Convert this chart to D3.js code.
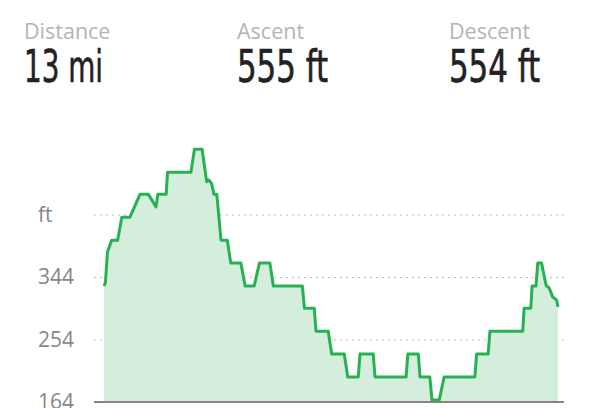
<!DOCTYPE html>
<html>
<head>
<meta charset="utf-8">
<script src="https://cdn.jsdelivr.net/npm/d3@7"></script>
<style>
  html, body { margin: 0; padding: 0; background: #fff; overflow: hidden; }
  svg { display: block; }
</style>
</head>
<body>
<svg id="chart" width="600" height="408"></svg>
<script>
// Summary stats
const statLabels = ["Distance", "Ascent", "Descent"];
const statValues = ["13 mi", "555 ft", "554 ft"];

// Elevation profile: distance (mi) and elevation (ft)
const distance = [0, 0.04, 0.10, 0.22, 0.39, 0.51, 0.74, 1.03, 1.27, 1.49, 1.54, 1.78, 1.82, 2.49, 2.59, 2.81,
  2.94, 2.99, 3.08, 3.15, 3.23, 3.35, 3.53, 3.63, 3.92, 4.04, 4.30, 4.45, 4.75, 4.85, 5.68, 5.74, 6.02, 6.07,
  6.42, 6.52, 6.88, 6.98, 7.28, 7.33, 7.71, 7.76, 8.65, 8.70, 9.00, 9.05, 9.33, 9.39, 9.60, 9.74, 10.62, 10.67,
  11.00, 11.05, 11.99, 12.03, 12.22, 12.26, 12.37, 12.42, 12.53, 12.66, 12.75, 12.85, 12.96, 13.00];
const elevation = [331, 336, 380, 397, 397, 430, 430, 463, 463, 445, 463, 463, 495, 495, 528, 528,
  481, 484, 479, 463, 463, 397, 397, 364, 364, 331, 331, 364, 364, 331, 331, 299, 299, 266,
  266, 233, 233, 200, 200, 233, 233, 200, 200, 233, 233, 200, 200, 167, 167, 200, 200, 233,
  233, 266, 266, 299, 299, 331, 331, 364, 364, 332, 328, 315, 311, 301];

// Y axis ticks
const yTickValues = [164, 254, 344, 434];
const yTickLabels = ["164", "254", "344", "ft"];

const svg = d3.select("#chart");

// Header
const statX = [24, 237, 449];
const statW = [79, 91, 91];
statLabels.forEach((lab, i) => {
  svg.append("text")
    .attr("x", statX[i]).attr("y", 39)
    .attr("font-family", "'Open Sans', 'Noto Sans', sans-serif")
    .attr("font-size", 21.5)
    .attr("fill", "#b4b4b4")
    .text(lab);
  svg.append("text")
    .attr("x", statX[i]).attr("y", 82)
    .attr("font-family", "'Liberation Sans Narrow', 'DejaVu Sans Condensed', 'Roboto', sans-serif")
    .attr("font-size", 44)
    .attr("fill", "#222")
    .attr("stroke", "#222")
    .attr("stroke-width", 0.6)
    .attr("textLength", statW[i])
    .attr("lengthAdjust", "spacingAndGlyphs")
    .text(statValues[i]);
});

// Scales
const x = d3.scaleLinear().domain([0, 13]).range([104, 558]);
const y = d3.scaleLinear().domain([164, 434]).range([402, 214.5]);

const gridLeft = 94, gridRight = 564;

// Axis with grid lines
const axis = d3.axisLeft(y)
  .tickValues(yTickValues)
  .tickFormat((d, i) => yTickLabels[i])
  .tickSize(-(gridRight - gridLeft))
  .tickPadding(19);

const gAxis = svg.append("g")
  .attr("transform", `translate(${gridLeft},0)`)
  .call(axis);
gAxis.select(".domain").remove();
gAxis.selectAll(".tick line")
  .attr("stroke", "#bdbdbd")
  .attr("stroke-width", 1)
  .attr("stroke-dasharray", "2,4");
gAxis.selectAll(".tick text")
  .attr("font-family", "'Open Sans', 'Noto Sans', sans-serif")
  .attr("font-size", 21)
  .attr("fill", "#878787")
  .attr("text-anchor", "start")
  .attr("x", 38 - gridLeft);

const data = distance.map((d, i) => ({ d, e: elevation[i] }));

// Area
const area = d3.area()
  .x(p => x(p.d))
  .y0(y(164))
  .y1(p => y(p.e));
svg.append("path")
  .datum(data)
  .attr("d", area)
  .attr("fill", "#d4eedc");

// Baseline
svg.append("line")
  .attr("x1", gridLeft).attr("x2", gridRight)
  .attr("y1", y(164)).attr("y2", y(164))
  .attr("stroke", "#858585")
  .attr("stroke-width", 2);

// Line
const line = d3.line()
  .x(p => x(p.d))
  .y(p => y(p.e));
svg.append("path")
  .datum(data)
  .attr("d", line)
  .attr("fill", "none")
  .attr("stroke", "#27b153")
  .attr("stroke-width", 3)
  .attr("stroke-linejoin", "round");
</script>
</body>
</html>
